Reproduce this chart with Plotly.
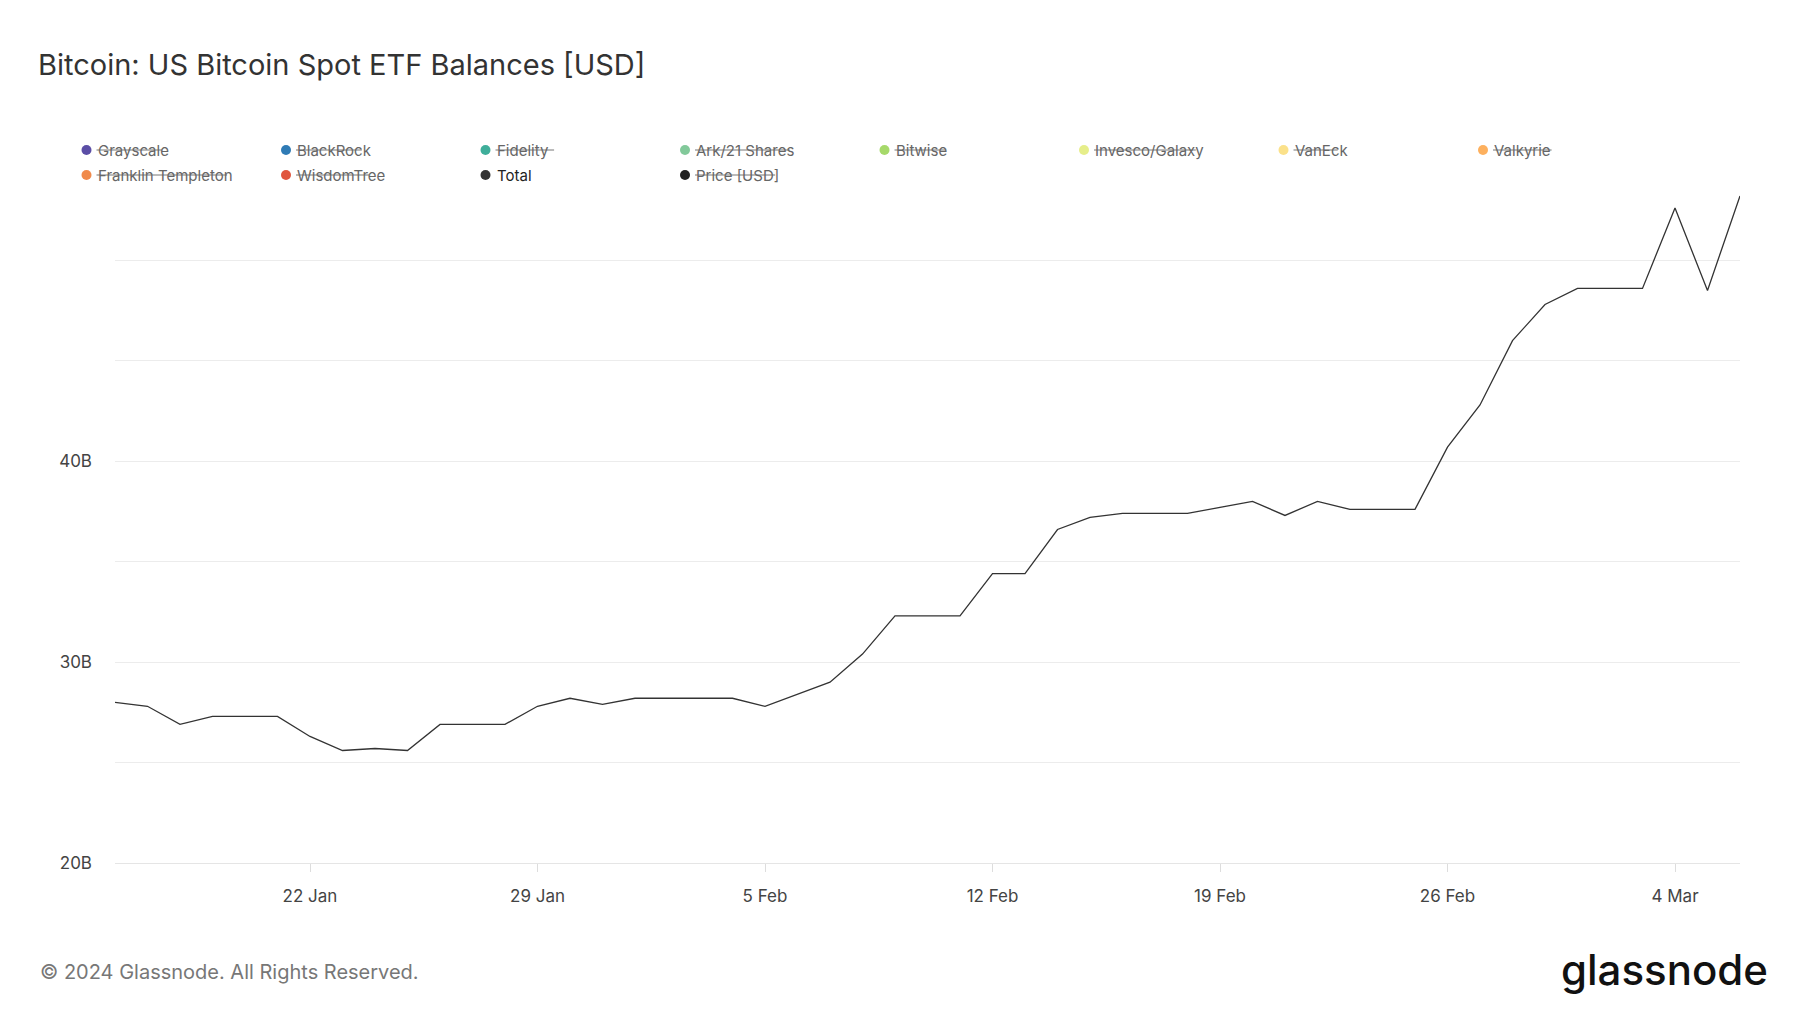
import plotly.graph_objects as go
import pandas as pd

dates = pd.date_range("2024-01-16", "2024-03-06", freq="D")
total_b = [28.0, 27.8, 26.9, 27.3, 27.3, 27.3, 26.3, 25.6, 25.7, 25.6,
           26.9, 26.9, 26.9, 27.8, 28.2, 27.9, 28.2, 28.2, 28.2, 28.2,
           27.8, 28.4, 29.0, 30.4, 32.3, 32.3, 32.3, 34.4, 34.4, 36.6,
           37.2, 37.4, 37.4, 37.4, 37.7, 38.0, 37.3, 38.0, 37.6, 37.6,
           37.6, 40.7, 42.8, 46.0, 47.8, 48.6, 48.6, 48.6, 52.6, 48.5, 53.2]

legend_names = ["Grayscale", "BlackRock", "Fidelity", "Ark/21 Shares", "Bitwise",
                "Invesco/Galaxy", "VanEck", "Valkyrie", "Franklin Templeton",
                "WisdomTree", "Total", "Price [USD]"]
legend_colors = ["#5b4ea6", "#2f7bb5", "#3fae9a", "#82c99a", "#a6d96a",
                 "#e6ee8a", "#fbe18a", "#fdb05e", "#f08a4b", "#e0553d",
                 "#333333", "#222222"]
legend_active = [False] * 10 + [True, False]

# page layout in pixels (page has an 8px body offset)
L, R, T, B = 107, 68, 186, 158
W, H = 1800, 1013
PW, PH = W - L - R, H - T - B


def px(x):
    return (x - L) / PW


def py(y):
    return (H - B - y) / PH


fig = go.Figure()
fig.add_trace(go.Scatter(x=dates, y=[v * 1e9 for v in total_b], name="Total",
                         mode="lines", line=dict(color="#333333", width=1.3)))

# custom legend with struck-out hidden series
for i, (name, col, on) in enumerate(zip(legend_names, legend_colors, legend_active)):
    cx = 78.5 + 199.5 * (i % 8)
    cy = 142 + 25 * (i // 8)
    r = 5
    fig.add_shape(type="circle", xref="paper", yref="paper",
                  x0=px(cx - r), x1=px(cx + r), y0=py(cy + r), y1=py(cy - r),
                  fillcolor=col, line=dict(width=0))
    fig.add_annotation(text=name, xref="paper", yref="paper", x=px(cx + 9), y=py(cy),
                       xanchor="left", yanchor="middle", showarrow=False,
                       font=dict(size=15, color="#222" if on else "#666"))
    if not on:
        tw = len(name) * 7.2
        fig.add_shape(type="line", xref="paper", yref="paper",
                      x0=px(cx + 10), x1=px(cx + 11 + tw), y0=py(cy), y1=py(cy),
                      line=dict(color="#777", width=1))

fig.update_layout(
    width=W, height=H,
    paper_bgcolor="white", plot_bgcolor="white",
    font=dict(family="Inter, Roboto, sans-serif", color="#444", size=16),
    title=dict(text="Bitcoin: US Bitcoin Spot ETF Balances [USD]", x=30 / W,
               y=1 - 57 / H, xanchor="left", yanchor="middle",
               font=dict(size=29, color="#333")),
    margin=dict(l=L, r=R, t=T, b=B),
    showlegend=False,
    xaxis=dict(range=[dates[0], dates[-1]], showgrid=False, ticks="outside",
               ticklen=8, tickcolor="#ddd", showline=True, linecolor="#e5e5e5",
               tickvals=pd.to_datetime(["2024-01-22", "2024-01-29", "2024-02-05",
                                        "2024-02-12", "2024-02-19", "2024-02-26", "2024-03-04"]),
               tickformat="%-d %b", ticklabelstandoff=10,
               tickfont=dict(size=17, color="#444")),
    yaxis=dict(range=[20e9, 53.3e9], tickvals=[20e9, 30e9, 40e9],
               ticktext=["20B", "30B", "40B"], gridcolor="#ececec",
               minor=dict(dtick=5e9, showgrid=True, gridcolor="#ececec", tick0=20e9),
               ticklabelstandoff=22, tickfont=dict(size=17, color="#444"), zeroline=False),
)
fig.add_annotation(text="© 2024 Glassnode. All Rights Reserved.", xref="paper", yref="paper",
                   x=px(30), y=py(964), xanchor="left", yanchor="middle", showarrow=False,
                   font=dict(size=20, color="#777"))
fig.add_annotation(text="glassnode", xref="paper", yref="paper", x=px(1762), y=py(961),
                   xanchor="right", yanchor="middle", showarrow=False,
                   font=dict(size=42, color="#111", family="Inter, sans-serif", weight=500))
fig.write_html("out.html")
